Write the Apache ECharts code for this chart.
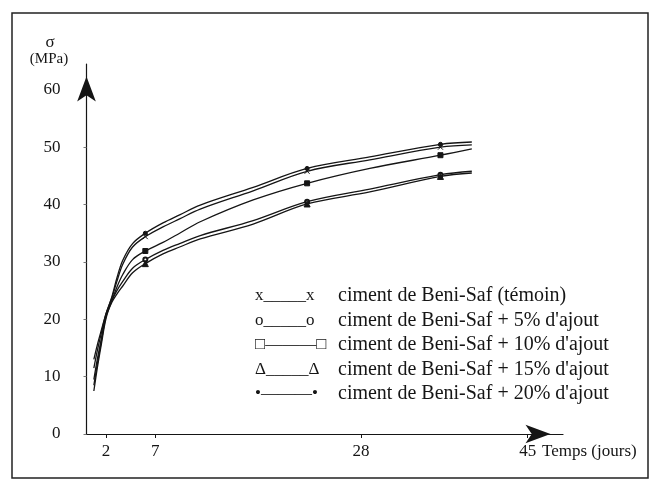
<!DOCTYPE html>
<html><head><meta charset="utf-8">
<script src="https://cdn.jsdelivr.net/npm/echarts@6/dist/echarts.min.js"></script>
<style>html,body{margin:0;padding:0;background:#fff}#c{width:652px;height:481px}</style>
</head><body><div id="c"></div>
<script>
// Days (Temps, jours) at which the curves were read
const days = [0.75, 1.1, 1.5, 2, 2.6, 3.1, 3.7, 4.7, 6, 7.8, 9.5, 11.6, 17, 22.5, 28.9, 36.1, 39.3];
const markerDays = [6, 22.5, 36.1];
// Compressive strength sigma (MPa)
const temoin  = [11.5, 14.5, 17.5, 21.0, 23.8, 26.6, 29.6, 32.6, 34.4, 36.1, 37.5, 39.2, 42.4, 45.8, 47.8, 50.0, 50.4];
const ajout5  = [9.5, 13.0, 16.5, 20.8, 23.3, 25.0, 26.6, 28.9, 30.4, 32.0, 33.2, 34.6, 37.2, 40.5, 42.7, 45.2, 45.8];
const ajout10 = [7.5, 11.5, 15.5, 20.2, 23.3, 25.6, 27.8, 30.4, 31.9, 33.4, 35.0, 37.0, 40.8, 43.7, 46.3, 48.6, 49.7];
const ajout15 = [8.5, 12.2, 16.0, 20.5, 23.0, 24.4, 25.8, 28.1, 29.7, 31.4, 32.6, 34.0, 36.6, 40.1, 42.2, 44.9, 45.5];
const ajout20 = [13.0, 15.5, 18.0, 21.0, 24.0, 27.2, 30.3, 33.2, 35.0, 36.8, 38.2, 39.9, 43.0, 46.3, 48.3, 50.5, 50.9];
const seriesNames = [
  "ciment de Beni-Saf (témoin)",
  "ciment de Beni-Saf + 5% d'ajout",
  "ciment de Beni-Saf + 10% d'ajout",
  "ciment de Beni-Saf + 15% d'ajout",
  "ciment de Beni-Saf + 20% d'ajout"
];
const legendGlyphs = ["x_____x", "o_____o", "□———□", "Δ_____Δ", "•———•"];
const yTicks = [0, 10, 20, 30, 40, 50, 60];
const xTicks = [2, 7, 28, 45];

const values = [temoin, ajout5, ajout10, ajout15, ajout20];
const symbols = ['path://M0,0L10,10M10,0L0,10', 'emptyCircle', 'rect', 'triangle', 'circle'];
const symbolSizes = [5, 4, 5, 6, 4];
const FONT = "'Liberation Serif', 'DejaVu Serif', serif";
const INK = '#151515';

const chart = echarts.init(document.getElementById('c'), null, {renderer: 'canvas'});
chart.setOption({
  animation: false,
  backgroundColor: '#ffffff',
  grid: {left: 86.5, right: 89, top: 64, bottom: 47, containLabel: false},
  xAxis: {
    type: 'value', min: 0, max: 48.6,
    axisLine: {show: true, lineStyle: {color: INK, width: 1.2}, symbol: ['none', 'arrow'], symbolSize: [14, 25], symbolOffset: [0, -12.5]},
    axisTick: {show: true, customValues: xTicks, length: 4, lineStyle: {color: INK}},
    axisLabel: {customValues: xTicks, margin: 9, fontFamily: FONT, fontSize: 17, color: INK},
    splitLine: {show: false}
  },
  yAxis: {
    type: 'value', min: 0, max: 64.5,
    axisLine: {show: true, lineStyle: {color: INK, width: 1.2}, symbol: ['none', 'arrow'], symbolSize: [14, 25], symbolOffset: [0, -12.5]},
    axisTick: {show: true, customValues: yTicks, length: 3, lineStyle: {color: '#777'}},
    axisLabel: {customValues: yTicks, margin: 26, fontFamily: FONT, fontSize: 17, color: INK},
    splitLine: {show: false}
  },
  legend: {
    orient: 'vertical', left: 249, top: 284, padding: 0, itemGap: 0.5,
    icon: 'none', itemWidth: 1, itemHeight: 10, selectedMode: false,
    data: seriesNames,
    formatter: function (name) {
      const i = seriesNames.indexOf(name);
      return '{s|' + legendGlyphs[i] + '}' + name;
    },
    textStyle: {
      fontFamily: FONT, fontSize: 20, color: INK, lineHeight: 24,
      rich: {s: {width: 83, fontFamily: FONT, fontSize: 17, color: INK, lineHeight: 24}}
    }
  },
  graphic: [
    {type: 'rect', shape: {x: 12, y: 13, width: 636, height: 465}, style: {fill: 'none', stroke: '#222', lineWidth: 1.5}, silent: true},
    {type: 'text', x: 50, y: 43, style: {text: 'σ', font: "17px 'Liberation Serif', serif", fill: INK, textAlign: 'center', textVerticalAlign: 'middle'}},
    {type: 'text', x: 49, y: 59, style: {text: '(MPa)', font: "15px 'Liberation Serif', serif", fill: INK, textAlign: 'center', textVerticalAlign: 'middle'}},
    {type: 'text', x: 542, y: 452, style: {text: 'Temps (jours)', font: "17px 'Liberation Serif', serif", fill: INK, textAlign: 'left', textVerticalAlign: 'middle'}}
  ],
  series: seriesNames.map(function (name, i) {
    return {
      name: name, type: 'line',
      data: days.map(function (d, j) { return [d, values[i][j]]; }),
      smooth: 0.35,
      symbol: function (v, p) { return markerDays.indexOf(days[p.dataIndex]) >= 0 ? symbols[i] : 'none'; },
      symbolSize: symbolSizes[i],
      showAllSymbol: true,
      lineStyle: {color: INK, width: 1.3},
      itemStyle: {color: INK, borderColor: INK, borderWidth: 1},
      emphasis: {disabled: true}
    };
  })
});
</script></body></html>
